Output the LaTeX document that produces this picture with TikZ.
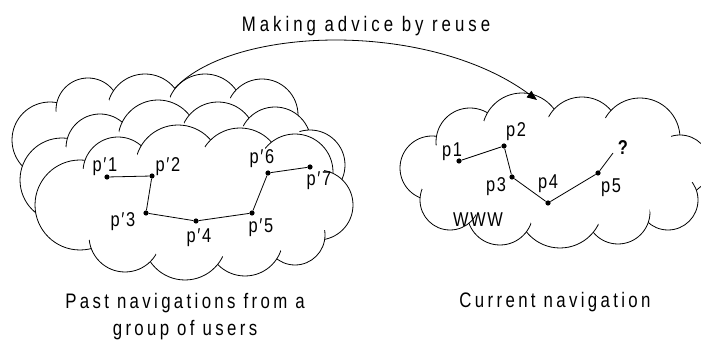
\documentclass[tikz,border=0pt]{standalone}
\usepackage{fontspec}
\usetikzlibrary{arrows.meta}
\newfontfamily\titlefont[FakeStretch=0.8,LetterSpace=19]{Liberation Sans}
\newfontfamily\capfont[FakeStretch=0.8,LetterSpace=16]{Liberation Sans}
\newfontfamily\labfont[FakeStretch=0.82,LetterSpace=8]{Liberation Sans}

% how far the curl of a puff runs on inside its neighbour
\newcommand\curldepth{9}
% \puffcloud{centre of the first puff}{list of puffs x/y/radius, in order round the cloud}
\newcommand\puffcloud[2]{%
  \foreach \x/\y/\r in {#2} {\filldraw[cloudline, fill=white] (\x,\y) circle (\r);}
  \fill[white] #1 \foreach \x/\y/\r in {#2} {-- (\x,\y)} -- cycle;
  \foreach \x/\y/\r in {#2} {\fill[white] (\x,\y) circle ({\r-\curldepth});}}

\begin{document}
\begin{tikzpicture}[x=1pt,y=-1pt,
  cloudline/.style={line width=0.8pt},
  dot/.style={circle, fill, inner sep=0pt, minimum size=5.2pt},
  lbl/.style={anchor=base, inner sep=0pt, font=\labfont\fontsize{20}{22}\selectfont},
  titletext/.style={anchor=base, inner sep=0pt, font=\titlefont\fontsize{21}{28}\selectfont},
  captext/.style={anchor=base, inner sep=0pt, align=center, font=\capfont\fontsize{21}{28}\selectfont},
  link/.style={line width=0.8pt}]
\useasboundingbox (0,0) rectangle (701,344);

% stacked clouds of past navigations, back to front
\puffcloud{(50,140)}{50/140/38, 88/110/32, 145/112/38, 205/112/38, 262/115/36, 275/150/28,
  240/185/38, 170/190/40, 100/185/38}
\puffcloud{(62,180)}{62/180/42, 100/148/34, 158/140/40, 218/140/38, 275/143/36, 310/165/35,
  300/210/35, 240/220/38, 175/222/40, 110/215/38}
\puffcloud{(80,205)}{80/205/45, 118/172/35, 178/168/43, 240/170/42, 295/172/38, 318/205/35,
  295/235/30, 245/238/38, 185/238/42, 125/236/36}
% cloud of the current navigation
\puffcloud{(432,168)}{432/168/32, 470/142/34, 522/133/40, 582/135/38, 640/138/40, 680/165/30,
  668/200/30, 618/212/32, 560/205/43, 500/212/33, 450/200/30}

% past navigation path
\node[dot] (a1) at (107,177) {};
\node[dot] (a2) at (152,176) {};
\node[dot] (a3) at (146,213) {};
\node[dot] (a4) at (196,221) {};
\node[dot] (a5) at (252,213) {};
\node[dot] (a6) at (268,173) {};
\node[dot] (a7) at (310,167) {};
\draw[link] (a1) -- (a2) -- (a3) -- (a4) -- (a5) -- (a6) -- (a7);
\node[lbl] (la1) at (105,172) {p′1};
\node[lbl] (la2) at (168,172) {p′2};
\node[lbl] (la3) at (123,227) {p′3};
\node[lbl] (la4) at (199,243) {p′4};
\node[lbl] (la5) at (261,233) {p′5};
\node[lbl] (la6) at (262,164) {p′6};
\node[lbl] (la7) at (319,186) {p′7};

% current navigation path
\node[dot] (b1) at (459,161) {};
\node[dot] (b2) at (504,146) {};
\node[dot] (b3) at (512,177) {};
\node[dot] (b4) at (548,203) {};
\node[dot] (b5) at (598,173) {};
\coordinate (bq) at (613,153);
\draw[link] (b1) -- (b2) -- (b3) -- (b4) -- (b5) -- (bq);
\node[lbl] (lb1) at (452,157) {p1};
\node[lbl] (lb2) at (516,137) {p2};
\node[lbl] (lb3) at (496,192) {p3};
\node[lbl] (lb4) at (548,189) {p4};
\node[lbl] (lb5) at (611,193) {p5};
\node[lbl, font=\labfont\bfseries\fontsize{20}{22}\selectfont] (lq) at (623,155) {?};
\node[lbl] (www) at (478,227) {WWW};

% reuse arc
\coordinate (arcstart) at (175,88);
\coordinate (arcend) at (537,100);
\draw[link, -{Triangle[length=10pt,width=8pt]}] (arcstart) .. controls (235,25) and (430,21) .. (arcend);
\node[titletext] (title) at (366,32) {Making advice by reuse};

% captions
\node[captext] (pastcap) at (185,336) {Past navigations from a\\group of users};
\node[captext] (curcap) at (555,308) {Current navigation};
\end{tikzpicture}
\end{document}
